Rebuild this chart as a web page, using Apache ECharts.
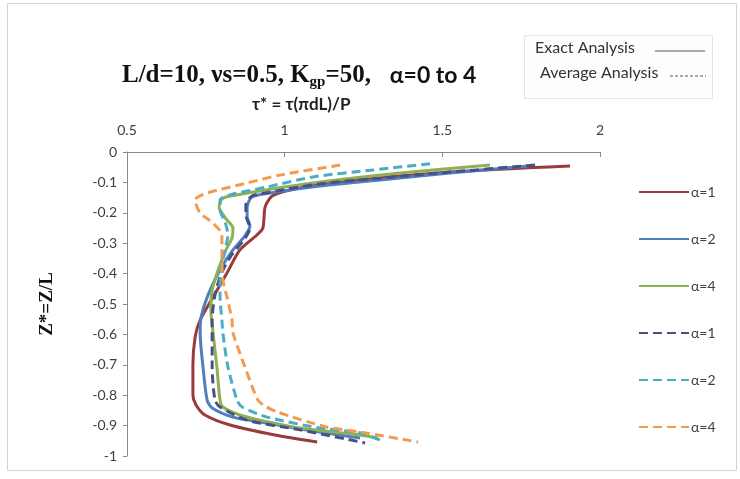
<!DOCTYPE html>
<html>
<head>
<meta charset="utf-8">
<script src="https://cdn.jsdelivr.net/npm/echarts@6/dist/echarts.min.js"></script>
<style>html,body{margin:0;padding:0;background:#fff}#c{width:740px;height:479px}</style>
</head>
<body>
<div id="c"></div>
<script>
// tau* (x) vs Z* (y) pairs
const exactA1 = [[1.905,-0.046],[1.524,-0.066],[1.144,-0.102],[1.017,-0.125],[0.960,-0.145],[0.938,-0.181],[0.931,-0.250],[0.912,-0.273],[0.858,-0.322],[0.817,-0.398],[0.773,-0.477],[0.732,-0.553],[0.716,-0.609],[0.709,-0.701],[0.709,-0.799],[0.719,-0.832],[0.747,-0.865],[0.827,-0.898],[0.969,-0.931],[1.103,-0.954]];
const exactA2 = [[1.772,-0.046],[1.524,-0.069],[1.302,-0.092],[1.112,-0.112],[0.954,-0.135],[0.896,-0.148],[0.881,-0.181],[0.881,-0.214],[0.890,-0.243],[0.874,-0.276],[0.836,-0.322],[0.795,-0.388],[0.757,-0.470],[0.735,-0.543],[0.732,-0.595],[0.741,-0.707],[0.754,-0.816],[0.770,-0.842],[0.836,-0.872],[0.922,-0.888],[1.049,-0.911],[1.239,-0.941]];
const exactA4 = [[1.651,-0.043],[1.366,-0.069],[1.112,-0.099],[0.922,-0.128],[0.827,-0.145],[0.801,-0.155],[0.792,-0.181],[0.814,-0.220],[0.836,-0.250],[0.833,-0.283],[0.814,-0.322],[0.789,-0.388],[0.770,-0.454],[0.766,-0.520],[0.773,-0.595],[0.785,-0.707],[0.795,-0.816],[0.804,-0.839],[0.858,-0.865],[0.922,-0.882],[1.049,-0.908],[1.239,-0.931],[1.296,-0.941]];
const avgA1 = [[1.794,-0.043],[1.524,-0.066],[1.302,-0.086],[1.112,-0.105],[0.954,-0.132],[0.896,-0.145],[0.877,-0.174],[0.877,-0.207],[0.890,-0.250],[0.871,-0.289],[0.836,-0.332],[0.801,-0.395],[0.779,-0.470],[0.770,-0.553],[0.770,-0.707],[0.779,-0.816],[0.795,-0.839],[0.881,-0.882],[1.049,-0.914],[1.255,-0.957]];
const avgA2 = [[1.461,-0.039],[1.280,-0.059],[1.090,-0.082],[0.944,-0.115],[0.827,-0.141],[0.795,-0.158],[0.795,-0.191],[0.811,-0.230],[0.820,-0.273],[0.811,-0.322],[0.801,-0.372],[0.795,-0.431],[0.795,-0.477],[0.801,-0.553],[0.804,-0.595],[0.820,-0.707],[0.849,-0.816],[0.865,-0.839],[0.944,-0.872],[1.112,-0.908],[1.239,-0.924],[1.302,-0.947]];
const avgA4 = [[1.176,-0.043],[0.985,-0.076],[0.881,-0.102],[0.754,-0.135],[0.716,-0.158],[0.732,-0.201],[0.773,-0.234],[0.801,-0.273],[0.801,-0.355],[0.804,-0.421],[0.817,-0.477],[0.833,-0.553],[0.836,-0.595],[0.874,-0.707],[0.915,-0.816],[0.938,-0.836],[0.976,-0.855],[1.134,-0.905],[1.239,-0.921],[1.423,-0.954]];

const seriesNames = ['Exact α=1','Exact α=2','Exact α=4','Average α=1','Average α=2','Average α=4'];
const seriesData = [exactA1, exactA2, exactA4, avgA1, avgA2, avgA4];
const seriesColors = ['#9B3B39','#4F7FBD','#8FB050','#46508A','#4BACC6','#F39A4E'];
const seriesDashed = [false,false,false,true,true,true];

const xMin = 0.5, xMax = 2, xStep = 0.5;
const yMin = -1, yMax = 0, yStep = 0.1;

const chart = echarts.init(document.getElementById('c'), null, {renderer:'canvas'});
const txt = '#404040';
chart.setOption({
  animation: false,
  backgroundColor: '#fff',
  title: {
    text: '{a|L/d=10, νs=0.5, K}{sub|gp}{a|=50,   }{b|α=0 to 4}',
    left: 117, top: 56,
    textStyle: {
      rich: {
        a: {fontFamily: 'Liberation Serif', fontWeight: 'bold', fontSize: 25, color: '#111'},
        sub: {fontFamily: 'Liberation Serif', fontWeight: 'bold', fontSize: 15, color: '#111', padding: [14,0,0,0]},
        b: {fontFamily: 'Lato', fontWeight: 'bold', fontSize: 23, color: '#111'}
      }
    }
  },
  graphic: [
    {type:'rect', shape:{x:7.5,y:3.5,width:729,height:467}, style:{fill:'none', stroke:'#d4d4d4', lineWidth:1}, silent:true},
    {type:'rect', shape:{x:524.5,y:35.5,width:188,height:63}, style:{fill:'#fdfdfb', stroke:'#e4e4e4', lineWidth:1}, silent:true},
    {type:'text', left:535, top:40, style:{text:'Exact Analysis', font:'16px Lato', fill:'#333'}},
    {type:'line', shape:{x1:655,y1:51,x2:705,y2:51}, style:{stroke:'#555', lineWidth:1.2}},
    {type:'text', left:540, top:65, style:{text:'Average Analysis', font:'16px Lato', fill:'#333'}},
    {type:'line', shape:{x1:670,y1:76,x2:706,y2:76}, style:{stroke:'#555', lineWidth:1.2, lineDash:[3,2]}},
    {type:'text', left:252, top:96, style:{text:'τ* = τ(πdL)/P', font:'bold 17px Lato', fill:'#222'}}
  ],
  legend: {
    orient: 'vertical', left: 633, top: 180,
    itemWidth: 50, itemHeight: 12, itemGap: 33,
    itemStyle: {opacity: 0},
    textStyle: {fontFamily:'Lato', fontSize: 14, color: txt, padding:[0,0,0,-3]},
    formatter: function(n){ return n.split(' ')[1]; },
    data: seriesNames
  },
  grid: {left: 127, right: 140, top: 152, bottom: 23},
  xAxis: {
    type: 'value', position: 'top', min: xMin, max: xMax, interval: xStep,
    axisLine: {show:true, lineStyle:{color:'#8a8a8a'}},
    axisTick: {show:true, inside:true, length:5, lineStyle:{color:'#8a8a8a'}},
    axisLabel: {color: txt, fontFamily:'Lato', fontSize: 14, margin: 15},
    splitLine: {show:false}
  },
  yAxis: {
    type: 'value', min: yMin, max: yMax, interval: yStep,
    name: 'Z*=Z/L', nameLocation: 'middle', nameGap: 70, nameRotate: 90,
    nameTextStyle: {fontFamily:'Liberation Serif', fontWeight:'bold', fontSize: 19, color:'#111'},
    axisLine: {show:true, lineStyle:{color:'#8a8a8a'}},
    axisTick: {show:true, length:4, lineStyle:{color:'#8a8a8a'}},
    axisLabel: {color: txt, fontFamily:'Lato', fontSize: 14, margin: 10},
    splitLine: {show:false}
  },
  series: seriesNames.map((n,i)=>({
    name: n, type: 'line', data: seriesData[i], symbol: 'none', smooth: 0.25,
    color: seriesColors[i],
    lineStyle: {width: 3, color: seriesColors[i], type: seriesDashed[i] ? [9,5] : 'solid'}
  }))
});
</script>
</body>
</html>
